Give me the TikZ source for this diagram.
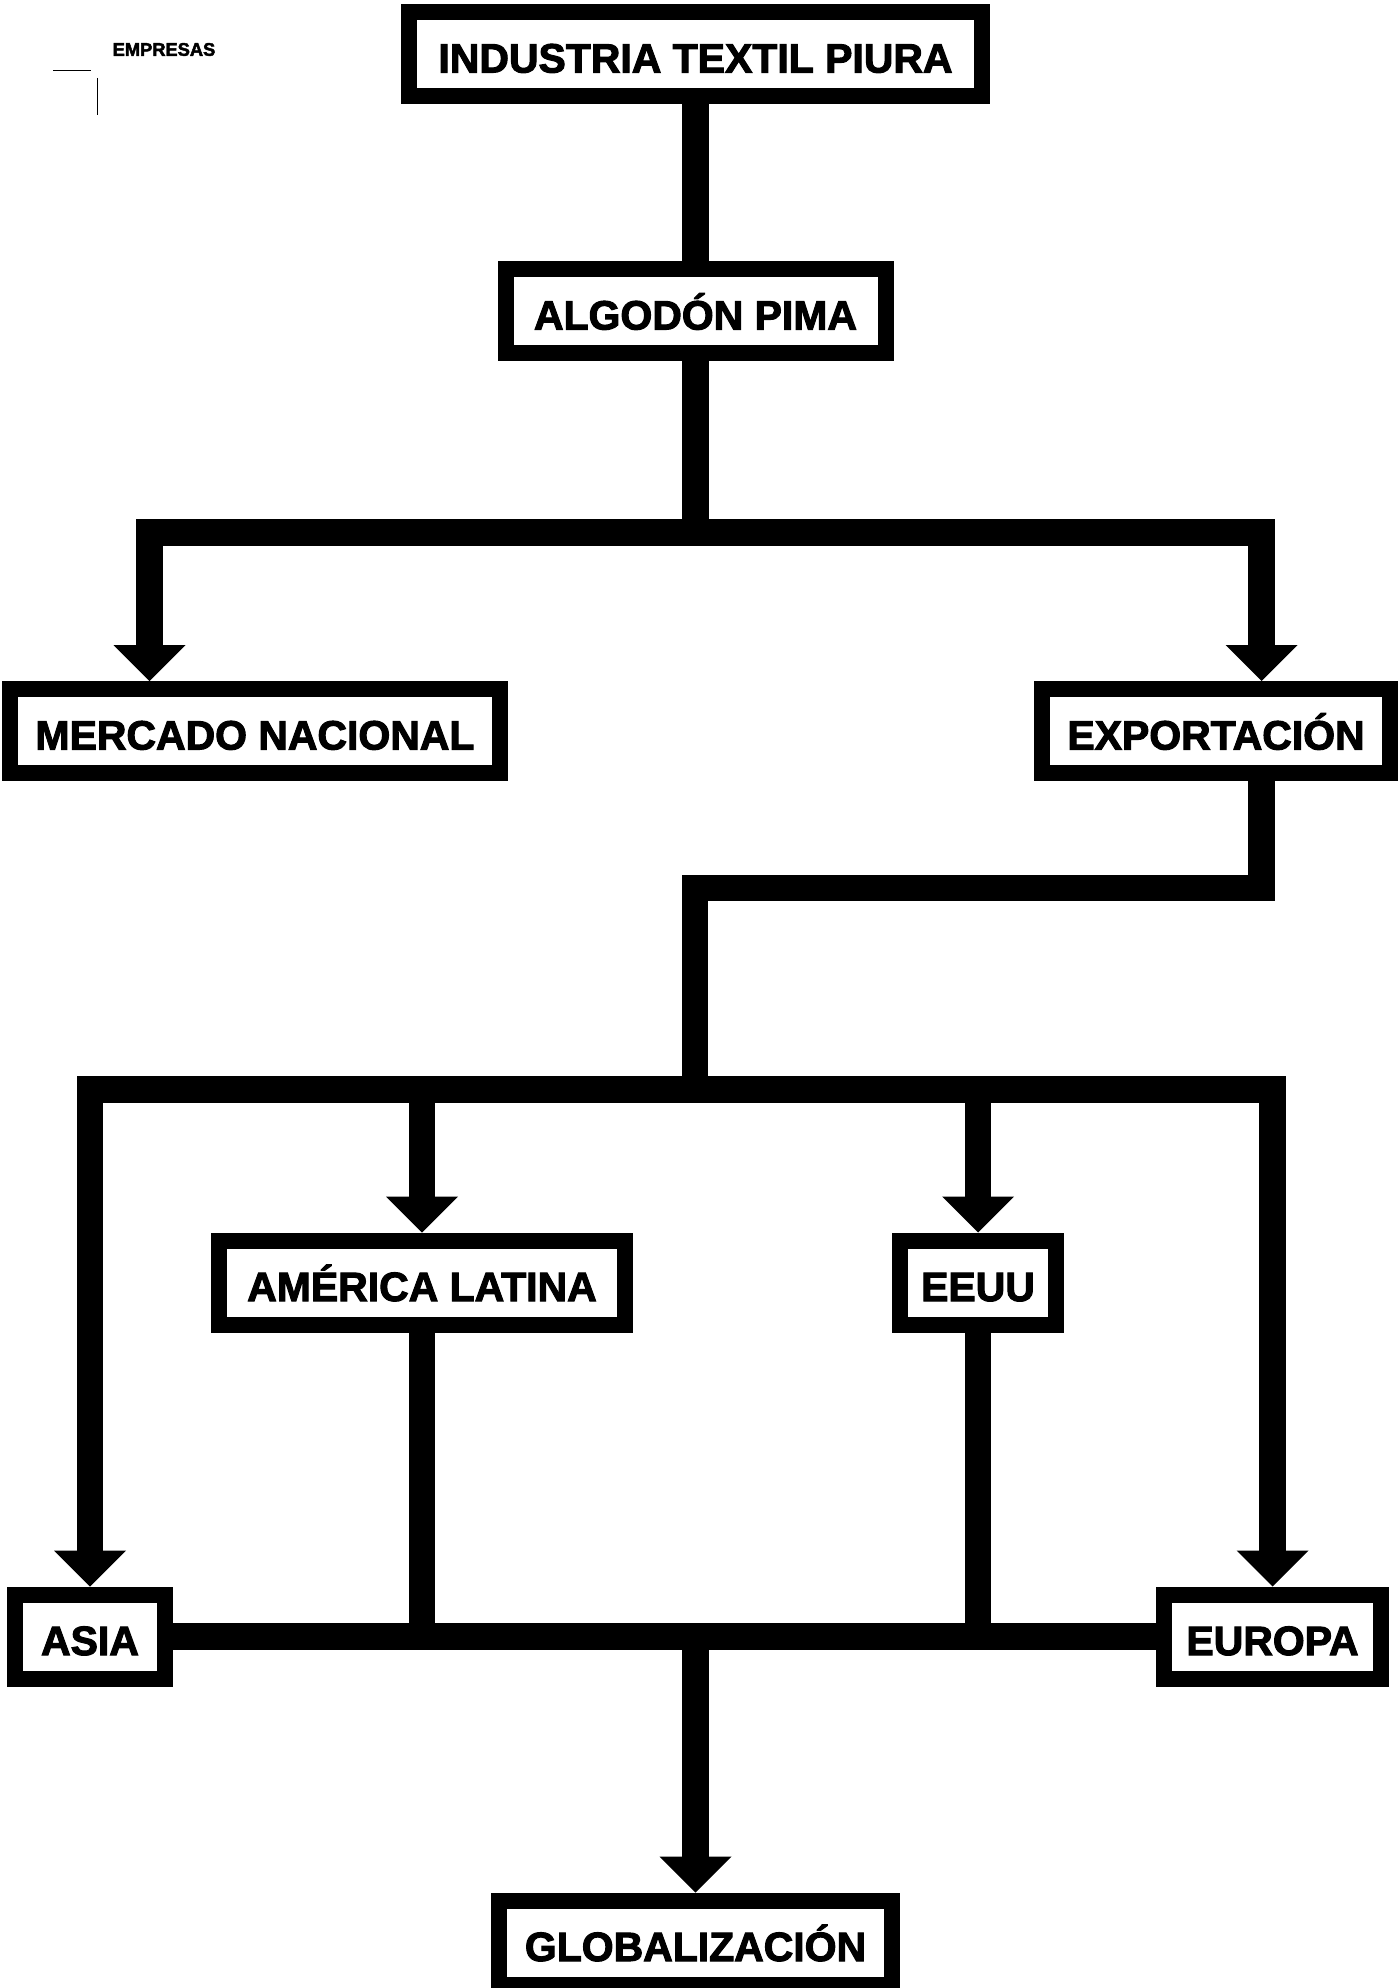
\documentclass[tikz,border=0pt]{standalone}
\usepackage{fontspec}
\setmainfont{Liberation Sans}
\newfontfamily\heavyfont{Liberation Sans}[UprightFont={* Bold}, FakeBold=2.5]
\usepackage{xcolor}
\usepackage{tikz}
\usetikzlibrary{positioning, arrows.meta}
\definecolor{tpInk}{HTML}{000000}
\tikzset{
  box/.style ={draw=tpInk, fill=white, line width=0.32cm, minimum height=1.68cm, inner xsep=0.3cm, text height=0.74cm, text depth=0pt, font=\fontsize{23.3}{28}\selectfont\heavyfont, text=tpInk},
  lnk/.style ={line width=0.53cm, tpInk},
  arr/.style ={-{Triangle[width=1.44cm,length=0.72cm,line width=0pt]}, line width=0.53cm, tpInk},
  tag/.style ={font=\fontsize{10.4}{12}\selectfont\heavyfont, text=tpInk, inner sep=0pt},
}

\begin{document}
\begin{tikzpicture}
\useasboundingbox (0,0) rectangle (27.98,-39.76);
% ---- section header ----
\node[tag] (sec) at (3.28,-0.99) {EMPRESAS};
\draw[tpInk, line width=0.02cm] (1.06,-1.42) -- (1.82,-1.42);
\draw[tpInk, line width=0.02cm] (1.94,-1.56) -- (1.94,-2.30);

% ---- production ----
\node[box, minimum width=11.46cm] (ind)  at (13.91,-1.08)  {INDUSTRIA TEXTIL PIURA};
\node[box, minimum width=7.60cm]  (alg)  at (13.91,-6.22)  {ALGODÓN PIMA};
\node[box, minimum width=9.80cm]  (merc) at (5.10,-14.62)  {MERCADO NACIONAL};
\node[box, minimum width=6.96cm]  (expo) at (24.32,-14.62) {EXPORTACIÓN};

\coordinate (j1) at (13.91,-10.65);
\draw[lnk] (ind) -- (alg);
\draw[lnk] (alg) -- (j1);
\draw[arr] (j1) -| ([xshift=-2.11cm]merc.north);
\draw[arr] (j1) -| ([xshift=0.91cm]expo.north);

% ---- markets ----
\coordinate (k1) at (13.90,-17.76);
\coordinate (j2) at (13.90,-21.79);
\draw[lnk] ([xshift=0.91cm]expo.south) |- (k1) -- (j2);

\node[box, minimum width=8.12cm] (amer) at (8.44,-25.65)  {AMÉRICA LATINA};
\node[box, minimum width=3.12cm] (eeuu) at (19.56,-25.65) {EEUU};
\node[box, minimum width=3.00cm] (asia) at (1.80,-32.73)  {ASIA};
\node[box, minimum width=4.34cm] (euro) at (25.45,-32.73) {EUROPA};
\node[box, minimum width=7.86cm] (glob) at (13.91,-38.85) {GLOBALIZACIÓN};

\draw[arr] (j2) -| (asia.north);
\draw[arr] (j2) -| (euro.north);
\draw[arr] (amer.north |- j2) -- (amer.north);
\draw[arr] (eeuu.north |- j2) -- (eeuu.north);

% ---- convergence ----
\draw[lnk] (asia) -- (euro);
\draw[lnk] (amer) -- (amer |- asia);
\draw[lnk] (eeuu) -- (eeuu |- asia);
\draw[arr] (glob |- asia) -- (glob);
\end{tikzpicture}
\end{document}
